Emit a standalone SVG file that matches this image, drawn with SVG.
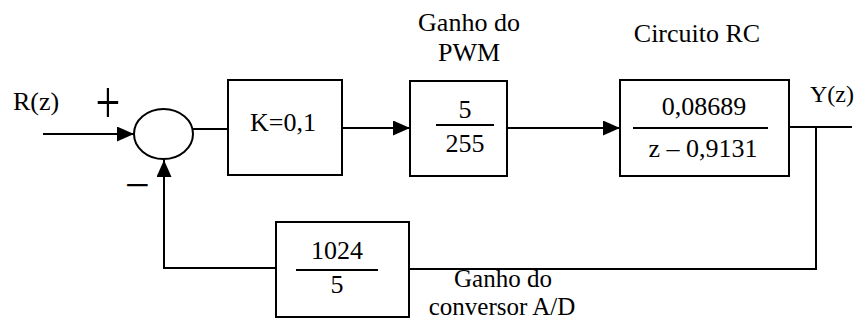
<svg xmlns="http://www.w3.org/2000/svg" width="858" height="321" viewBox="0 0 858 321">
<style>
  .t { font-family: "Liberation Serif", "Times New Roman", serif; font-size: 26px; fill: #000; }
  .m { text-anchor: middle; }
  .box { fill: #fff; stroke: #000; stroke-width: 2; }
  .ln { fill: none; stroke: #000; stroke-width: 2; }
  .frac { stroke: #000; stroke-width: 2; }
  .sym { font-family: "Liberation Serif", "Times New Roman", serif; font-size: 44px; text-anchor: middle; fill: #000; }
  .sm { font-size: 25px; }
</style>
<defs>
  <marker id="arr" markerUnits="userSpaceOnUse" markerWidth="17" markerHeight="15" refX="17" refY="7.5" orient="auto">
    <path d="M0,0 L17,7.5 L0,15 z" fill="#000"/>
  </marker>
</defs>
<rect width="858" height="321" fill="#fff"/>

<g id="connectors">
  <line class="ln" x1="43" y1="134" x2="134" y2="134" marker-end="url(#arr)"/>
  <line class="ln" x1="193" y1="129" x2="228" y2="129"/>
  <line class="ln" x1="342" y1="128" x2="410" y2="128" marker-end="url(#arr)"/>
  <line class="ln" x1="507" y1="128" x2="620" y2="128" marker-end="url(#arr)"/>
  <line class="ln" x1="789" y1="127" x2="852" y2="127"/>
  <polyline class="ln" points="816,127 816,269 409,269"/>
  <polyline class="ln" points="276,268 164,268 164,160" marker-end="url(#arr)"/>
</g>

<g id="input-label">
  <text class="t" x="13" y="110">R(z)</text>
</g>

<g id="sum">
  <ellipse cx="163.5" cy="134" rx="29.5" ry="25" class="ln"/>
  <g transform="translate(108,108) scale(1,1.4)"><text class="sym" x="0" y="11">+</text></g>
  <text class="sym" x="137.5" y="200">−</text>
</g>

<g id="gain-k">
  <rect class="box" x="228" y="80" width="114" height="95"/>
  <text class="t m" x="283" y="131">K=0,1</text>
</g>

<g id="pwm">
  <text class="t m" x="469" y="31">Ganho do</text>
  <text class="t m" x="469" y="61">PWM</text>
  <rect class="box" x="410" y="81" width="97" height="95"/>
  <text class="t m" x="465" y="118">5</text>
  <line class="frac" x1="436" y1="125" x2="494" y2="125"/>
  <text class="t m" x="465" y="152">255</text>
</g>

<g id="rc">
  <text class="t m" x="697" y="42">Circuito RC</text>
  <rect class="box" x="620" y="80" width="169" height="96"/>
  <text class="t m" x="704" y="115">0,08689</text>
  <line class="frac" x1="633" y1="128" x2="768" y2="128"/>
  <text class="t m" x="703" y="157">z – 0,9131</text>
</g>

<g id="output-label">
  <text class="t" x="810" y="102" style="font-size:24px">Y(z)</text>
</g>

<g id="adc">
  <rect class="box" x="276" y="222" width="133" height="95"/>
  <text class="t m" x="337" y="259">1024</text>
  <line class="frac" x1="296" y1="270" x2="378" y2="270"/>
  <text class="t m" x="337" y="293">5</text>
  <text class="t m sm" x="503" y="287">Ganho do</text>
  <text class="t m sm" x="502" y="315">conversor A/D</text>
</g>
</svg>
